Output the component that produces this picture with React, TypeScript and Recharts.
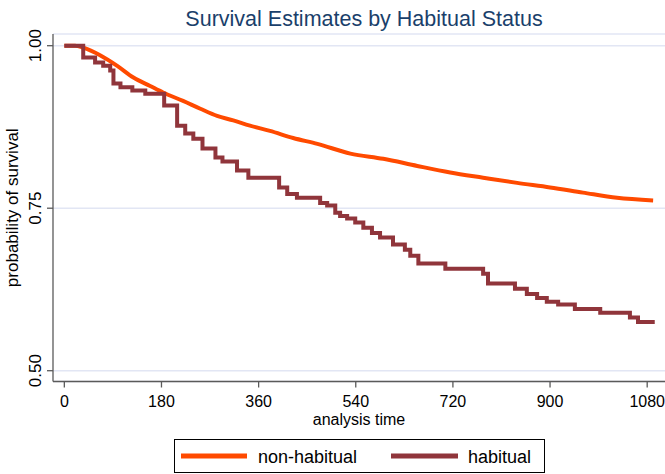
import { LineChart, Line, XAxis, YAxis, CartesianGrid } from "recharts";

// Kaplan-Meier estimates
const nonHabitualTime = [0, 20, 35, 67, 98, 128, 159, 183, 220, 252, 283, 313, 344, 381, 424, 469, 530, 591, 654, 715, 776, 839, 900, 961, 1024, 1091];
const nonHabitualSurv = [1, 1, 0.997, 0.985, 0.969, 0.951, 0.938, 0.928, 0.915, 0.903, 0.892, 0.885, 0.877, 0.869, 0.858, 0.849, 0.834, 0.826, 0.815, 0.805, 0.797, 0.789, 0.782, 0.774, 0.766, 0.762];

const habitualTime = [0, 35, 57, 72, 85, 91, 104, 126, 150, 185, 209, 224, 239, 256, 280, 293, 320, 341, 398, 413, 431, 474, 487, 502, 511, 524, 539, 554, 570, 585, 609, 631, 641, 656, 706, 776, 785, 835, 857, 876, 894, 915, 946, 993, 1048, 1063, 1094];
const habitualSurv = [1, 0.982, 0.974, 0.969, 0.962, 0.942, 0.936, 0.931, 0.926, 0.908, 0.877, 0.865, 0.857, 0.842, 0.828, 0.822, 0.808, 0.797, 0.782, 0.772, 0.766, 0.758, 0.754, 0.743, 0.738, 0.734, 0.728, 0.72, 0.712, 0.705, 0.694, 0.686, 0.677, 0.665, 0.657, 0.649, 0.634, 0.626, 0.618, 0.612, 0.606, 0.602, 0.595, 0.589, 0.582, 0.575, 0.575];

const xTicks = [0, 180, 360, 540, 720, 900, 1080];
const yTicks = [0.5, 0.75, 1.0];

const FONT = "'Liberation Sans', Arial, sans-serif";
const ORANGE = "#ff4a00";
const MAROON = "#90353b";
const AXIS = "#5a5a5a";

// rotated y tick labels, like Stata's default
const YTick = ({ x, y, payload }: { x?: number; y?: number; payload?: { value: number } }) => (
  <text
    transform={`translate(${(x ?? 0) - 4},${y}) rotate(-90)`}
    textAnchor="middle"
    fill="#000"
    style={{ fontSize: 17, fontFamily: FONT }}
  >
    {(payload?.value ?? 0).toFixed(2)}
  </text>
);

export default function App() {
  const nonHab = nonHabitualTime.map((t, i) => ({ t, s: nonHabitualSurv[i] }));
  const hab = habitualTime.map((t, i) => ({ t, s: habitualSurv[i] }));

  return (
    <div style={{ position: "absolute", left: 0, top: 0, width: 665, height: 474, background: "#fff" }}>
      <LineChart width={665} height={474} margin={{ top: 34, right: 0, bottom: 0, left: 0 }}>
        <CartesianGrid vertical={false} stroke="#e2e6f4" strokeWidth={1.5} />
        <XAxis
          type="number"
          dataKey="t"
          domain={[-21, 1113]}
          ticks={xTicks}
          allowDataOverflow
          height={92.5}
          tickSize={6}
          tickMargin={8}
          stroke={AXIS}
          strokeWidth={1.3}
          tick={{ fill: "#000", fontSize: 16, fontFamily: FONT }}
          label={{
            content: ({ viewBox }: any) => (
              <text
                x={viewBox.x + viewBox.width / 2}
                y={viewBox.y + 43.5}
                textAnchor="middle"
                fill="#000"
                style={{ fontSize: 16, fontFamily: FONT }}
              >
                analysis time
              </text>
            ),
          }}
        />
        <YAxis
          type="number"
          dataKey="s"
          domain={[0.4834, 1.018]}
          ticks={yTicks}
          allowDataOverflow
          width={53}
          tickSize={6}
          tickMargin={2}
          stroke={AXIS}
          strokeWidth={1.3}
          tick={YTick as never}
          label={{
            content: ({ viewBox }: any) => (
              <text
                transform={`translate(${viewBox.x + 18},${viewBox.y + viewBox.height / 2}) rotate(-90)`}
                textAnchor="middle"
                fill="#000"
                style={{ fontSize: 17, fontFamily: FONT }}
              >
                probability of survival
              </text>
            ),
          }}
        />
        <Line
          data={nonHab}
          dataKey="s"
          type="monotone"
          stroke={ORANGE}
          strokeWidth={4}
          dot={false}
          isAnimationActive={false}
        />
        <Line
          data={hab}
          dataKey="s"
          type="stepAfter"
          stroke={MAROON}
          strokeWidth={4}
          dot={false}
          isAnimationActive={false}
        />
      </LineChart>

      <svg width={665} height={474} style={{ position: "absolute", left: 0, top: 0, pointerEvents: "none" }}>
        <text x={364} y={26} textAnchor="middle" fill="#1a3f6b" style={{ fontSize: 21.5, fontFamily: FONT }}>
          Survival Estimates by Habitual Status
        </text>
        {/* legend */}
        <rect x={174.5} y={439.5} width={370} height={33} fill="#fff" stroke="#000" strokeWidth={1} />
        <line x1={181} y1={456} x2={247} y2={456} stroke={ORANGE} strokeWidth={5} />
        <text x={258} y={463} fill="#000" style={{ fontSize: 18, fontFamily: FONT }}>non-habitual</text>
        <line x1={391} y1={456} x2={458} y2={456} stroke={MAROON} strokeWidth={5} />
        <text x={468} y={463} fill="#000" style={{ fontSize: 18, fontFamily: FONT }}>habitual</text>
      </svg>
    </div>
  );
}
